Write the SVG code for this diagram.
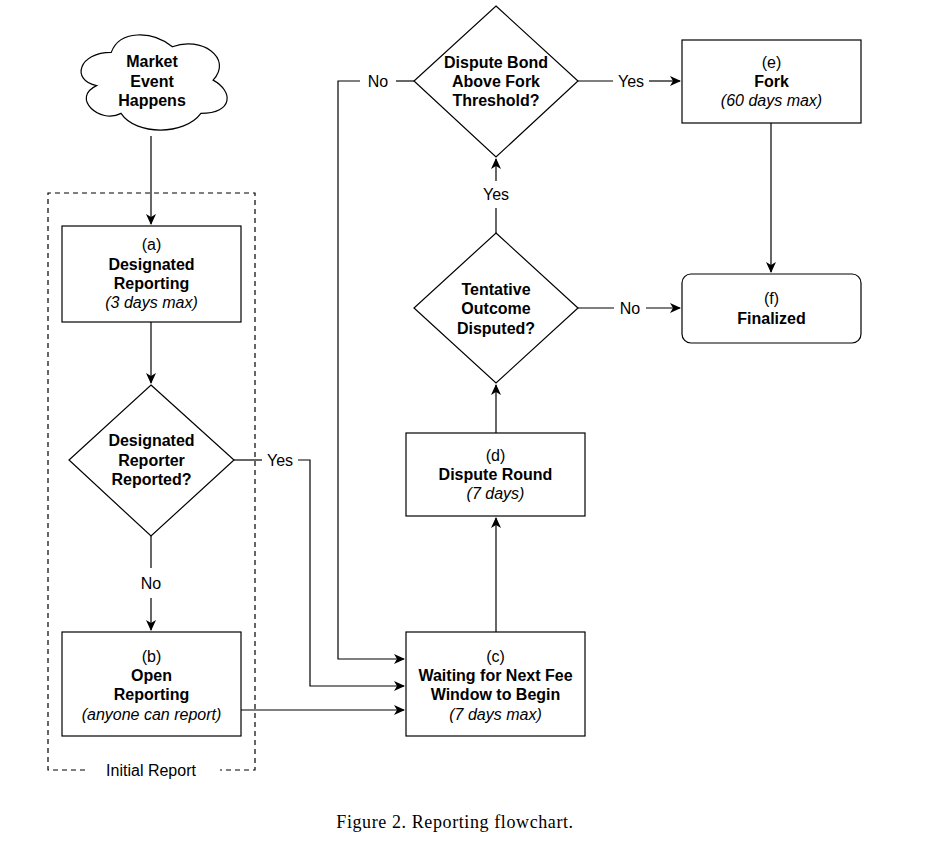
<svg xmlns="http://www.w3.org/2000/svg" width="933" height="849" viewBox="0 0 933 849">
<defs>
<marker id="arr" markerWidth="12" markerHeight="10" refX="10" refY="5" orient="auto" markerUnits="userSpaceOnUse">
<path d="M0,0 L11,5 L0,10 L3,5 Z" fill="#000"/>
</marker>
<style>
.s{fill:#fff;stroke:#000;stroke-width:1.2}
.c{fill:none;stroke:#000;stroke-width:1.2}
.t{font-family:"Liberation Sans",Arial,sans-serif;font-size:16px;fill:#000;text-anchor:middle}
.b{font-weight:bold}
.i{font-style:italic}
.lbl{font-family:"Liberation Sans",Arial,sans-serif;font-size:16px;fill:#000;text-anchor:middle}
</style>
</defs>
<rect width="933" height="849" fill="#fff"/>

<g id="group-initial-report">
<path d="M85,770 L48,770 L48,193 L255,193 L255,770 L220,770" fill="none" stroke="#000" stroke-width="1.2" stroke-dasharray="5,4"/>
<text class="lbl" x="151" y="776">Initial Report</text>
</g>

<g id="connectors">
<path class="c" d="M151,136 L151,224" marker-end="url(#arr)"/>
<path class="c" d="M151,322 L151,383" marker-end="url(#arr)"/>
<path class="c" d="M151,536 L151,568"/>
<path class="c" d="M151,598 L151,630" marker-end="url(#arr)"/>
<text class="lbl" x="151" y="589">No</text>
<path class="c" d="M234,460 L262,460"/>
<text class="lbl" x="280" y="466">Yes</text>
<path class="c" d="M298,460 L310,460 L310,686 L404,686" marker-end="url(#arr)"/>
<path class="c" d="M241,710 L404,710" marker-end="url(#arr)"/>
<path class="c" d="M414,81 L396,81"/>
<text class="lbl" x="378" y="87">No</text>
<path class="c" d="M360,81 L338,81 L338,659 L404,659" marker-end="url(#arr)"/>
<path class="c" d="M496,632 L496,518" marker-end="url(#arr)"/>
<path class="c" d="M496,433 L496,385" marker-end="url(#arr)"/>
<path class="c" d="M496,233 L496,208"/>
<text class="lbl" x="496" y="200">Yes</text>
<path class="c" d="M496,181 L496,159" marker-end="url(#arr)"/>
<path class="c" d="M578,81 L613,81"/>
<text class="lbl" x="631" y="87">Yes</text>
<path class="c" d="M649,81 L680,81" marker-end="url(#arr)"/>
<path class="c" d="M578,308 L614,308"/>
<text class="lbl" x="630" y="314">No</text>
<path class="c" d="M646,308 L680,308" marker-end="url(#arr)"/>
<path class="c" d="M771,123 L771,272" marker-end="url(#arr)"/>
</g>

<g id="node-market-event">
<path class="s" transform="translate(70.5,24.6)" d="M40.75,27.75 C8.15,27.75 0,55.5 26.08,61.05 C0,73.26 29.34,99.9 50.53,88.8 C65.2,111 114.1,111 130.4,88.8 C163,88.8 163,66.6 142.6,55.5 C163,33.3 130.4,11.1 101.9,22.2 C81.5,5.55 48.9,5.55 40.75,27.75 Z"/>
<text class="t b" x="152" y="67">Market</text>
<text class="t b" x="152" y="87">Event</text>
<text class="t b" x="152" y="106">Happens</text>
</g>

<g id="node-a">
<rect class="s" x="62" y="226" width="179" height="96"/>
<text class="t" x="151.5" y="250">(a)</text>
<text class="t b" x="151.5" y="270">Designated</text>
<text class="t b" x="151.5" y="289">Reporting</text>
<text class="t i" x="151.5" y="308">(3 days max)</text>
</g>

<g id="node-designated-reported">
<path class="s" d="M151,385 L234,460 L151,536 L69,460 Z"/>
<text class="t b" x="151.5" y="446">Designated</text>
<text class="t b" x="151.5" y="466">Reporter</text>
<text class="t b" x="151.5" y="485">Reported?</text>
</g>

<g id="node-b">
<rect class="s" x="62" y="632" width="179" height="104"/>
<text class="t" x="151.5" y="662">(b)</text>
<text class="t b" x="151.5" y="681">Open</text>
<text class="t b" x="151.5" y="700">Reporting</text>
<text class="t i" x="151.5" y="720">(anyone can report)</text>
</g>

<g id="node-c">
<rect class="s" x="406" y="632" width="179" height="104"/>
<text class="t" x="495.5" y="662">(c)</text>
<text class="t b" x="495.5" y="681">Waiting for Next Fee</text>
<text class="t b" x="495.5" y="700">Window to Begin</text>
<text class="t i" x="495.5" y="720">(7 days max)</text>
</g>

<g id="node-d">
<rect class="s" x="406" y="433" width="179" height="83"/>
<text class="t" x="495.5" y="461">(d)</text>
<text class="t b" x="495.5" y="480">Dispute Round</text>
<text class="t i" x="495.5" y="499">(7 days)</text>
</g>

<g id="node-tentative-disputed">
<path class="s" d="M496,233 L578,308 L496,383 L414,308 Z"/>
<text class="t b" x="496" y="295">Tentative</text>
<text class="t b" x="496" y="314">Outcome</text>
<text class="t b" x="496" y="334">Disputed?</text>
</g>

<g id="node-bond-threshold">
<path class="s" d="M496,6 L578,81 L496,157 L414,81 Z"/>
<text class="t b" x="496" y="68">Dispute Bond</text>
<text class="t b" x="496" y="87">Above Fork</text>
<text class="t b" x="496" y="106">Threshold?</text>
</g>

<g id="node-e">
<rect class="s" x="682" y="40" width="179" height="83"/>
<text class="t" x="771.5" y="68">(e)</text>
<text class="t b" x="771.5" y="87">Fork</text>
<text class="t i" x="771.5" y="106">(60 days max)</text>
</g>

<g id="node-f">
<rect class="s" x="682" y="274" width="179" height="69" rx="9" ry="9"/>
<text class="t" x="771.5" y="304">(f)</text>
<text class="t b" x="771.5" y="324">Finalized</text>
</g>

<text x="455" y="828" font-family="'Liberation Serif','Times New Roman',serif" font-size="18" letter-spacing="0.6" text-anchor="middle" fill="#000">Figure 2.  Reporting flowchart.</text>
</svg>
